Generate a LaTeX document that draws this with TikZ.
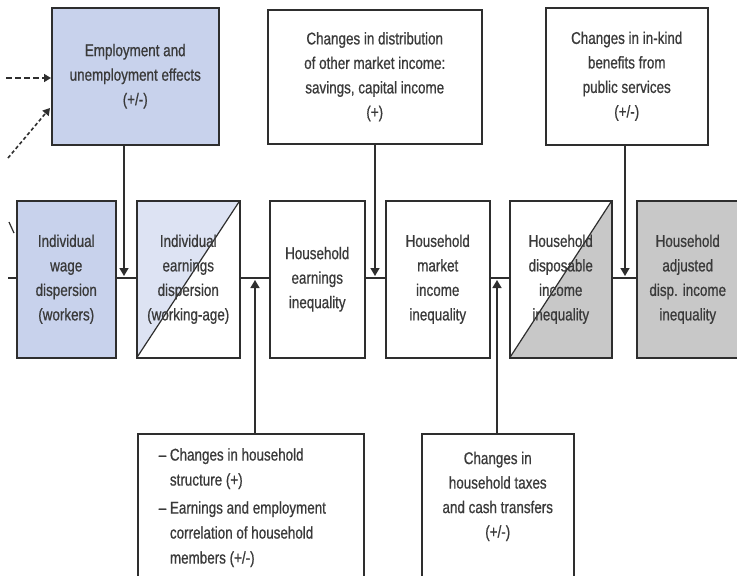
\documentclass[tikz,border=0pt]{standalone}
\usepackage{fontspec}
\setmainfont{Liberation Sans}[FakeStretch=0.79,FakeBold=0.7]
\usetikzlibrary{arrows.meta}
\definecolor{bluefill}{HTML}{C8D2EC}
\definecolor{bluelight}{HTML}{DDE3F3}
\definecolor{grayfill}{HTML}{C8C8C8}
\definecolor{ink}{HTML}{2E2E2E}
\definecolor{txt}{HTML}{3A3A3A}
\newcommand{\lblfont}{\fontsize{17}{24.5}\selectfont}
\begin{document}
\begin{tikzpicture}[x=1pt,y=-1pt,
  box/.style={draw=ink, line width=1.5pt, rectangle, inner sep=0pt, anchor=north west,
              text=txt, font=\lblfont, align=center},
  conn/.style={draw=ink, line width=1.5pt},
  arr/.style={conn, -{Triangle[length=8pt,width=9pt]}, shorten >=2pt},
  darr/.style={draw=ink, line width=1.6pt, dash pattern=on 6pt off 3pt, -{Triangle[length=7pt,width=8pt]}},
  dotarr/.style={draw=ink, line width=1.6pt, dash pattern=on 3.5pt off 2.5pt, -{Triangle[length=7pt,width=8pt]}},
  halfblue/.style={path picture={
     \fill[bluelight] (path picture bounding box.south west) -- (path picture bounding box.north west)
        -- (path picture bounding box.north east) -- cycle;
     \draw[ink, line width=1.2pt] (path picture bounding box.south west) -- (path picture bounding box.north east);}},
  halfgray/.style={path picture={
     \fill[grayfill] (path picture bounding box.south west) -- (path picture bounding box.south east)
        -- (path picture bounding box.north east) -- cycle;
     \draw[ink, line width=1.2pt] (path picture bounding box.south west) -- (path picture bounding box.north east);}},
]
\useasboundingbox (0,0) rectangle (737,576);
\clip (0,0) rectangle (737,576);
\fill[white] (0,0) rectangle (737,576);

% top boxes
\node[box, fill=bluefill, minimum width=167pt, minimum height=137pt] (e) at (51,7)
  {Employment and\\unemployment effects\\(+/-)};
\node[box, minimum width=214pt, minimum height=134pt] (t1) at (267,9)
  {Changes in distribution\\of other market income:\\savings, capital income\\(+)};
\node[box, minimum width=162pt, minimum height=137pt] (t2) at (545,7)
  {Changes in in-kind\\benefits from\\public services\\(+/-)};

% middle row
\node[box, fill=bluefill, minimum width=99pt, minimum height=157pt] (b1) at (16,200)
  {Individual\\wage\\dispersion\\(workers)};
\node[box, fill=white, halfblue, minimum width=103pt, minimum height=157pt] (b2) at (136,200)
  {Individual\\earnings\\dispersion\\(working-age)};
\node[box, minimum width=95pt, minimum height=157pt] (b3) at (269,200)
  {Household\\earnings\\inequality};
\node[box, minimum width=104pt, minimum height=157pt] (b4) at (385,200)
  {Household\\market\\income\\inequality};
\node[box, fill=white, halfgray, minimum width=102pt, minimum height=157pt] (b5) at (509,200)
  {Household\\disposable\\income\\inequality};
\node[box, fill=grayfill, minimum width=112pt, minimum height=157pt] (b6) at (636,200)
  {\hspace*{-10pt}Household\\\hspace*{-10pt}adjusted\\\hspace*{-10pt}disp. income\\\hspace*{-10pt}inequality};

% bottom boxes
\node[box, align=left] (d1) at (137,433)
  {\parbox[c][167pt][t]{226pt}{\raggedright\leftskip=21pt\lblfont
   \vspace*{14.5pt}\baselineskip=25pt
   – Changes in household\\
   \hphantom{– }structure (+)\par\vspace{3pt}
   – Earnings and employment\\
   \hphantom{– }correlation of household\\
   \hphantom{– }members (+/-)}};
\node[box] (d2) at (421,433)
  {\parbox[c][167pt][t]{152pt}{\centering\lblfont
   \vspace*{18pt}\baselineskip=24.5pt
   Changes in\\household taxes\\and cash transfers\\(+/-)}};

% junction coordinates on the main line
\coordinate (l0) at (8,278);
\coordinate (j1) at (124,278);
\coordinate (j2) at (255,278);
\coordinate (j3) at (375,278);
\coordinate (j4) at (497,278);
\coordinate (j5) at (625,278);

% main line
\draw[conn] (l0) -- (b1.west |- l0);
\draw[conn] (b1.east |- l0) -- (b2.west |- l0);
\draw[conn] (b2.east |- l0) -- (b3.west |- l0);
\draw[conn] (b3.east |- l0) -- (b4.west |- l0);
\draw[conn] (b4.east |- l0) -- (b5.west |- l0);
\draw[conn] (b5.east |- l0) -- (b6.west |- l0);

% influence arrows
\draw[arr] (e.south -| j1) -- (j1);
\draw[arr] (d1.north -| j2) -- (j2);
\draw[arr] (t1.south -| j3) -- (j3);
\draw[arr] (d2.north -| j4) -- (j4);
\draw[arr] (t2.south -| j5) -- (j5);

% dashed incoming arrows
\coordinate (dA) at (6,78);
\coordinate (dB) at (8,158);
\coordinate (dBe) at (50,108);
\draw[darr] (dA) -- (e.west |- dA);
\draw[dotarr] (dB) -- (dBe);

% fragment at left edge
\coordinate (fA) at (9,222);
\coordinate (fB) at (14,233);
\draw[ink, line width=1.2pt] (fA) -- (fB);
\end{tikzpicture}
\end{document}
